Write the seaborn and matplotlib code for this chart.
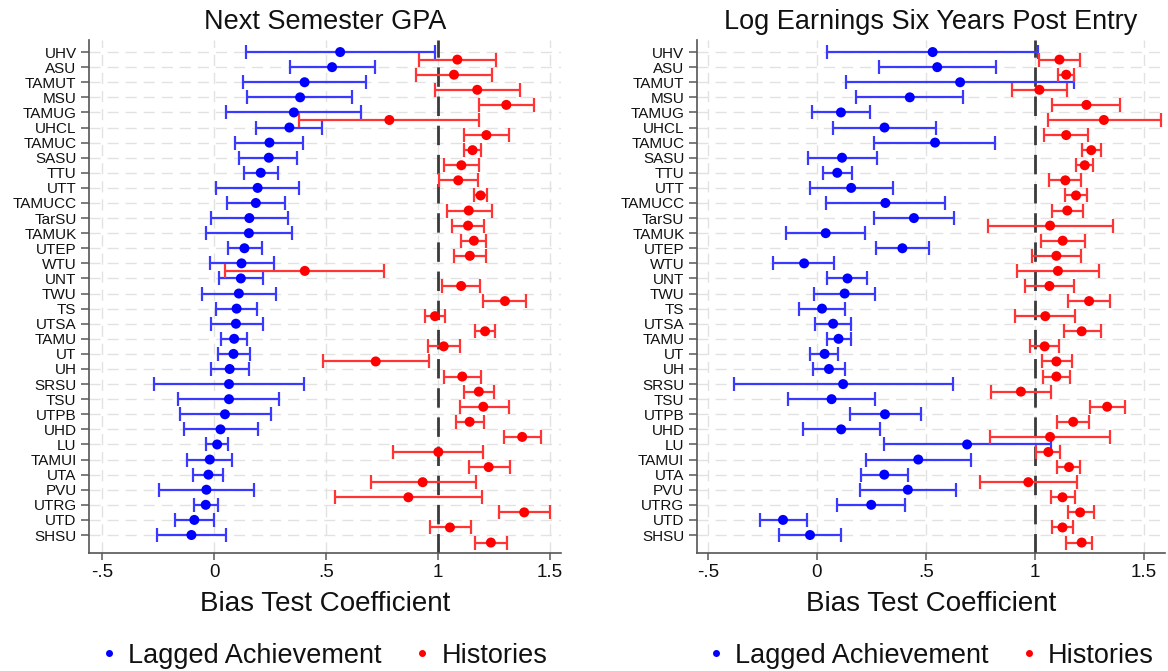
import numpy as np
import pandas as pd
import matplotlib
matplotlib.use("Agg")
import matplotlib.pyplot as plt
from matplotlib.lines import Line2D
import seaborn as sns

schools = ["UHV","ASU","TAMUT","MSU","TAMUG","UHCL","TAMUC","SASU","TTU","UTT","TAMUCC","TarSU",
           "TAMUK","UTEP","WTU","UNT","TWU","TS","UTSA","TAMU","UT","UH","SRSU","TSU","UTPB","UHD",
           "LU","TAMUI","UTA","PVU","UTRG","UTD","SHSU"]

gpa_lag = [0.563,0.527,0.404,0.384,0.356,0.336,0.247,0.244,0.208,0.194,0.186,0.157,0.155,0.135,0.122,0.119,0.110,
           0.100,0.097,0.089,0.086,0.069,0.066,0.066,0.048,0.028,0.013,-0.020,-0.026,-0.035,-0.038,-0.089,-0.102]
gpa_lag_lo = [0.142,0.338,0.128,0.145,0.054,0.186,0.092,0.112,0.132,0.008,0.056,-0.016,-0.038,0.063,-0.020,0.020,-0.056,
              0.010,-0.016,0.031,0.016,-0.015,-0.270,-0.160,-0.153,-0.137,-0.036,-0.124,-0.096,-0.247,-0.092,-0.175,-0.255]
gpa_lag_hi = [0.985,0.717,0.680,0.618,0.657,0.483,0.399,0.372,0.285,0.379,0.316,0.328,0.348,0.213,0.269,0.217,0.275,
              0.191,0.216,0.147,0.158,0.155,0.400,0.290,0.254,0.194,0.063,0.081,0.041,0.178,0.018,-0.002,0.051]
gpa_his = [1.087,1.072,1.176,1.306,0.783,1.217,1.155,1.105,1.091,1.191,1.138,1.135,1.161,1.143,0.405,1.104,1.300,
           0.987,1.211,1.026,0.722,1.109,1.183,1.203,1.142,1.377,1.002,1.227,0.932,0.868,1.386,1.054,1.237]
gpa_his_lo = [0.914,0.903,0.985,1.183,0.381,1.117,1.119,1.028,1.005,1.163,1.040,1.063,1.104,1.071,0.048,1.018,1.204,
              0.941,1.168,0.956,0.486,1.026,1.117,1.097,1.079,1.297,0.799,1.137,0.700,0.542,1.272,0.965,1.168]
gpa_his_hi = [1.259,1.241,1.369,1.430,1.186,1.318,1.193,1.186,1.178,1.219,1.241,1.208,1.217,1.217,0.761,1.188,1.394,
              1.033,1.257,1.097,0.959,1.194,1.252,1.318,1.206,1.460,1.201,1.321,1.170,1.196,1.502,1.150,1.311]

earn_lag = [0.532,0.553,0.658,0.427,0.111,0.311,0.543,0.116,0.094,0.158,0.315,0.446,0.041,0.393,-0.058,0.141,0.128,
            0.024,0.075,0.100,0.036,0.056,0.121,0.068,0.313,0.112,0.690,0.466,0.310,0.418,0.250,-0.155,-0.031]
earn_lag_lo = [0.046,0.286,0.136,0.180,-0.024,0.075,0.264,-0.039,0.029,-0.032,0.041,0.264,-0.139,0.274,-0.199,0.048,-0.014,
               -0.082,-0.007,0.048,-0.029,-0.019,-0.381,-0.133,0.151,-0.065,0.310,0.226,0.202,0.197,0.094,-0.262,-0.173]
earn_lag_hi = [1.014,0.821,1.182,0.672,0.243,0.548,0.820,0.276,0.160,0.350,0.590,0.629,0.223,0.514,0.080,0.230,0.269,
               0.129,0.156,0.155,0.097,0.128,0.624,0.269,0.480,0.291,1.073,0.707,0.417,0.639,0.405,-0.046,0.109]
earn_his = [1.114,1.145,1.022,1.238,1.318,1.145,1.260,1.230,1.141,1.190,1.150,1.071,1.129,1.100,1.107,1.068,1.250,
            1.049,1.216,1.046,1.100,1.100,0.937,1.333,1.177,1.071,1.063,1.158,0.971,1.128,1.209,1.128,1.216]
earn_his_lo = [1.019,1.107,0.898,1.082,1.060,1.044,1.219,1.189,1.066,1.141,1.078,0.784,1.029,0.986,0.918,0.954,1.155,
               0.910,1.133,0.978,1.032,1.039,0.801,1.252,1.105,0.796,1.007,1.105,0.750,1.073,1.153,1.080,1.146]
earn_his_hi = [1.209,1.180,1.148,1.393,1.578,1.245,1.304,1.270,1.214,1.240,1.223,1.359,1.230,1.214,1.296,1.179,1.347,
               1.187,1.303,1.112,1.170,1.162,1.073,1.417,1.250,1.344,1.117,1.209,1.196,1.184,1.272,1.175,1.262]

titles = ["Next Semester GPA", "Log Earnings Six Years Post Entry"]
series_names = ["Lagged Achievement", "Histories"]
xticks = [-0.5, 0, 0.5, 1, 1.5]
xticklabels = ["-.5", "0", ".5", "1", "1.5"]
xlabel = "Bias Test Coefficient"

sns.set_theme(style="white")
plt.rcParams["font.family"] = ["Liberation Sans", "DejaVu Sans"]
plt.rcParams["text.color"] = "#111111"
plt.rcParams["axes.labelcolor"] = "#111111"
plt.rcParams["xtick.labelcolor"] = "#111111"
plt.rcParams["ytick.labelcolor"] = "#111111"

fig = plt.figure(figsize=(11.68, 6.71), dpi=100)
axes = [fig.add_axes([0.0762, 0.1759, 0.404, 0.7645]),
        fig.add_axes([0.5967, 0.1759, 0.401, 0.7645])]
xlims = [(-0.56, 1.55), (-0.55, 1.6)]
panels = [
    (gpa_lag, gpa_lag_lo, gpa_lag_hi, gpa_his, gpa_his_lo, gpa_his_hi),
    (earn_lag, earn_lag_lo, earn_lag_hi, earn_his, earn_his_lo, earn_his_hi),
]
colors = {"Lagged Achievement": "#0000ff", "Histories": "#ff0000"}
bar_colors = {"Lagged Achievement": "#3a3aff", "Histories": "#ff3434"}

ypos = np.arange(len(schools))
for ax, (la, lal, lah, hi_, hil, hih), title, xl in zip(axes, panels, titles, xlims):
    rows = []
    for i, s in enumerate(schools):
        rows.append(dict(school=s, y=i, est=la[i], lo=lal[i], hi=lah[i], series="Lagged Achievement"))
        rows.append(dict(school=s, y=i + 0.5, est=hi_[i], lo=hil[i], hi=hih[i], series="Histories"))
    df = pd.DataFrame(rows)

    # grid
    for yy in ypos:
        ax.axhline(yy, color="#e2e2e2", lw=1.0, ls=(0, (8, 5)), zorder=0)
    for xx in xticks:
        ax.axvline(xx, color="#e2e2e2", lw=1.0, ls=(0, (8, 5)), zorder=0)
    ax.axvline(1, color="#3a3a3a", lw=2.0, ls=(0, (7, 3.5)), zorder=1)

    for ser in series_names:
        d = df[df.series == ser]
        ax.errorbar(d["est"], d["y"], xerr=[d["est"] - d["lo"], d["hi"] - d["est"]],
                    fmt="none", ecolor=bar_colors[ser], elinewidth=1.6, capsize=5,
                    capthick=1.6, zorder=2)
    sns.scatterplot(data=df, x="est", y="y", hue="series", palette=colors, s=52,
                    edgecolor="none", ax=ax, legend=False, zorder=3)

    ax.set_xlim(*xl)
    ax.set_ylim(len(schools) - 1 + 1.19, -0.8)
    ax.set_yticks(ypos)
    ax.set_yticklabels(schools, fontsize=11)
    ax.set_xticks(xticks)
    ax.set_xticklabels(xticklabels, fontsize=13.5)
    ax.set_ylabel("")
    ax.set_xlabel(xlabel, fontsize=20, labelpad=7)
    ax.set_title(title, fontsize=19.5, pad=8)
    ax.tick_params(axis="y", which="both", direction="out", length=6, width=1.2,
                   color="#666666", left=True, pad=3)
    ax.tick_params(axis="x", which="both", direction="out", length=5, width=1.2,
                   color="#666666", bottom=True, pad=3)
    for sp in ["top", "right"]:
        ax.spines[sp].set_visible(False)
    for sp in ["left", "bottom"]:
        ax.spines[sp].set_color("#555555")
        ax.spines[sp].set_linewidth(1.2)
    ax.grid(False)

    handles = [Line2D([], [], marker="o", ls="none", color=colors[s], markersize=4) for s in series_names]
    ax.legend(handles, series_names, loc="center", bbox_to_anchor=(0.5, -0.2), ncol=2,
              frameon=False, handlelength=0.5, handletextpad=0.45, columnspacing=1.25,
              prop={"size": 19.5})

fig.savefig("out.png", dpi=100)
